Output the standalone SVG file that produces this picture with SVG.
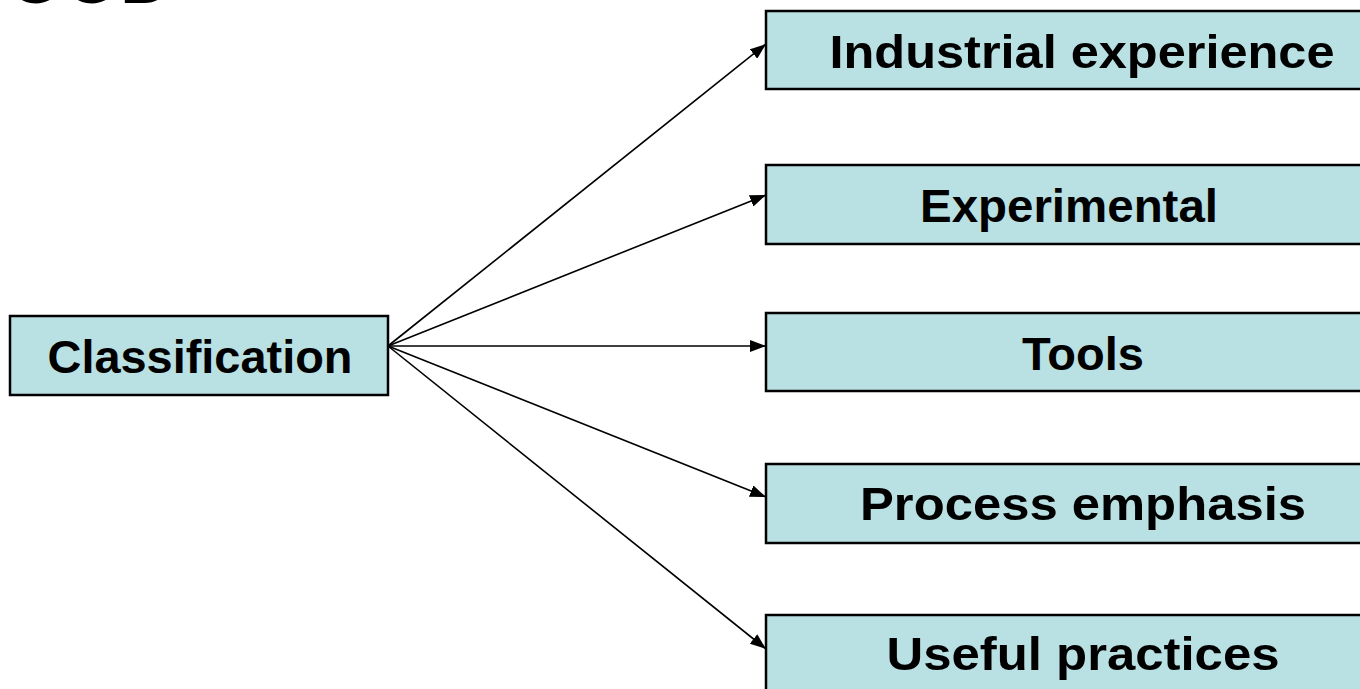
<svg xmlns="http://www.w3.org/2000/svg" width="1360" height="689" viewBox="0 0 1360 689">
<defs>
<style>
.box{fill:#b9e0e3;stroke:#000;stroke-width:2.5}
.lbl{font-family:"Liberation Sans",Arial,sans-serif;font-weight:bold;font-size:47px;fill:#000;text-anchor:middle}
.edge{stroke:#000;stroke-width:1.6;fill:none;marker-end:url(#ah)}
</style>
<marker id="ah" viewBox="0 0 16 12" refX="16" refY="6" markerWidth="16" markerHeight="12" markerUnits="userSpaceOnUse" orient="auto">
<path d="M0,0 L16,6 L0,12 z" fill="#000"/>
</marker>
</defs>
<rect width="1360" height="689" fill="#fff"/>
<text x="8" y="3" font-family="Liberation Sans,Arial,sans-serif" font-weight="bold" font-size="72">OOD</text>
<g id="connectors">
<line class="edge" x1="388" y1="346" x2="766" y2="44"/>
<line class="edge" x1="388" y1="346" x2="766" y2="195"/>
<line class="edge" x1="388" y1="346" x2="766" y2="346"/>
<line class="edge" x1="388" y1="346" x2="766" y2="497"/>
<line class="edge" x1="388" y1="346" x2="766" y2="649"/>
</g>
<g id="classification">
<rect class="box" x="10" y="316" width="378" height="79"/>
<text class="lbl" x="200" y="373" textLength="305" lengthAdjust="spacingAndGlyphs">Classification</text>
</g>
<g id="industrial">
<rect class="box" x="766" y="11" width="640" height="78"/>
<text class="lbl" x="1082" y="68" textLength="505" lengthAdjust="spacingAndGlyphs">Industrial experience</text>
</g>
<g id="experimental">
<rect class="box" x="766" y="165" width="640" height="79"/>
<text class="lbl" x="1069" y="222" textLength="298" lengthAdjust="spacingAndGlyphs">Experimental</text>
</g>
<g id="tools">
<rect class="box" x="766" y="313" width="640" height="78"/>
<text class="lbl" x="1083" y="370">Tools</text>
</g>
<g id="process">
<rect class="box" x="766" y="464" width="640" height="79"/>
<text class="lbl" x="1083" y="520" textLength="446" lengthAdjust="spacingAndGlyphs">Process emphasis</text>
</g>
<g id="useful">
<rect class="box" x="766" y="615" width="640" height="100"/>
<text class="lbl" x="1083" y="670" textLength="393" lengthAdjust="spacingAndGlyphs">Useful practices</text>
</g>
</svg>
